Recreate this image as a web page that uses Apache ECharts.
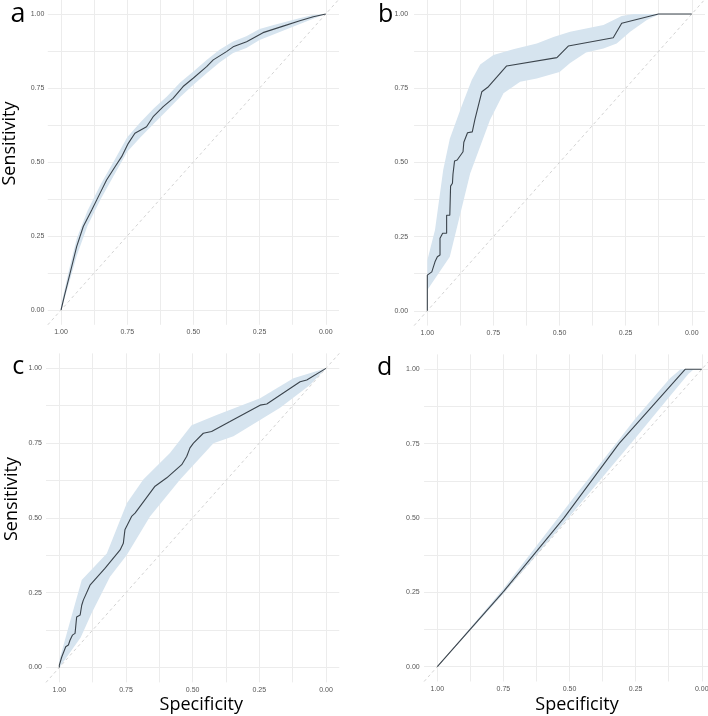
<!DOCTYPE html>
<html>
<head>
<meta charset="utf-8">
<script src="https://cdn.jsdelivr.net/npm/echarts@6/dist/echarts.min.js"></script>
<style>html,body{margin:0;padding:0;background:#fff;}#c{width:708px;height:716px;}</style>
</head>
<body>
<div id="c"></div>
<script>
// ---- tick / grid values ----
const tickLabels = [0, 0.25, 0.5, 0.75, 1];
const gridValues = [0, 0.125, 0.25, 0.375, 0.5, 0.625, 0.75, 0.875, 1];
const panelLetters = ['a', 'b', 'c', 'd'];
const diagonal = [[1.05, -0.05], [-0.05, 1.05]];

// ---- panel a : [specificity, sensitivity] ----
const aCurve = [[1,0],[0.985,0.056],[0.966,0.124],[0.941,0.214],[0.916,0.282],[0.884,0.338],[0.853,0.394],[0.828,0.439],[0.796,0.484],[0.771,0.518],[0.746,0.563],[0.721,0.597],[0.677,0.619],[0.652,0.653],[0.614,0.687],[0.577,0.715],[0.539,0.755],[0.501,0.783],[0.45,0.822],[0.425,0.845],[0.375,0.873],[0.35,0.889],[0.299,0.906],[0.237,0.937],[0.161,0.959],[0.098,0.977],[0.047,0.991],[0,1]];
const aUpper = [[1,0.014],[0.97,0.135],[0.94,0.243],[0.9,0.335],[0.85,0.425],[0.8,0.503],[0.75,0.584],[0.7,0.634],[0.65,0.681],[0.6,0.721],[0.55,0.769],[0.5,0.806],[0.45,0.845],[0.4,0.88],[0.35,0.907],[0.3,0.925],[0.25,0.949],[0.2,0.962],[0.15,0.974],[0.1,0.986],[0.05,0.997],[0,1]];
const aLower = [[1,0],[0.97,0.09],[0.94,0.185],[0.9,0.285],[0.85,0.375],[0.8,0.455],[0.75,0.535],[0.7,0.584],[0.65,0.629],[0.6,0.674],[0.55,0.72],[0.5,0.761],[0.45,0.8],[0.4,0.837],[0.35,0.868],[0.3,0.885],[0.25,0.912],[0.2,0.93],[0.15,0.948],[0.1,0.965],[0.05,0.983],[0,1]];

// ---- panel b ----
const bCurve = [[1,0],[1,0.12],[0.983,0.131],[0.971,0.165],[0.962,0.182],[0.952,0.188],[0.952,0.244],[0.942,0.261],[0.927,0.261],[0.927,0.322],[0.915,0.322],[0.912,0.42],[0.905,0.43],[0.903,0.46],[0.897,0.46],[0.897,0.505],[0.887,0.508],[0.865,0.536],[0.862,0.568],[0.848,0.6],[0.83,0.603],[0.826,0.62],[0.82,0.645],[0.794,0.738],[0.769,0.755],[0.7,0.825],[0.51,0.853],[0.467,0.892],[0.297,0.92],[0.265,0.969],[0.126,1],[0,1]];
const bUpper = [[1,0.17],[0.971,0.272],[0.94,0.474],[0.915,0.58],[0.87,0.69],[0.832,0.778],[0.8,0.83],[0.75,0.862],[0.675,0.881],[0.586,0.901],[0.523,0.923],[0.46,0.94],[0.334,0.963],[0.265,0.993],[0.22,1],[0,1]];
const bLower = [[1,0.07],[0.915,0.182],[0.838,0.463],[0.763,0.643],[0.712,0.733],[0.649,0.772],[0.586,0.783],[0.5,0.805],[0.46,0.835],[0.4,0.87],[0.334,0.884],[0.284,0.901],[0.233,0.94],[0.17,0.98],[0.12,1],[0,1]];

// ---- panel c ----
const cCurve = [[1,0],[1,0.008],[0.991,0.035],[0.976,0.069],[0.966,0.075],[0.96,0.091],[0.951,0.108],[0.941,0.114],[0.935,0.169],[0.922,0.175],[0.916,0.208],[0.91,0.225],[0.885,0.275],[0.829,0.331],[0.772,0.393],[0.76,0.415],[0.754,0.46],[0.729,0.505],[0.716,0.516],[0.641,0.606],[0.597,0.634],[0.541,0.678],[0.522,0.706],[0.51,0.734],[0.497,0.75],[0.46,0.783],[0.429,0.789],[0.36,0.822],[0.247,0.877],[0.222,0.881],[0.097,0.955],[0.072,0.961],[0,1]];
const cUpper = [[1,0.024],[0.96,0.153],[0.916,0.292],[0.822,0.381],[0.747,0.549],[0.685,0.628],[0.585,0.717],[0.504,0.81],[0.41,0.844],[0.247,0.9],[0.122,0.967],[0,1]];
const cLower = [[1,0],[0.96,0.05],[0.92,0.1],[0.879,0.181],[0.81,0.303],[0.747,0.376],[0.66,0.505],[0.547,0.628],[0.422,0.75],[0.347,0.773],[0.172,0.868],[0.06,0.944],[0,1]];

// ---- panel d ----
const dCurve = [[1,0],[0.75,0.252],[0.521,0.5],[0.313,0.75],[0.063,1],[0,1]];
const dUpper = [[1,0],[0.75,0.262],[0.5,0.55],[0.25,0.835],[0.12,0.97],[0.08,1],[0,1]];
const dLower = [[1,0],[0.75,0.245],[0.5,0.505],[0.25,0.77],[0.12,0.91],[0.05,0.985],[0.03,1],[0,1]];

const panels = [
  {curve: aCurve, upper: aUpper, lower: aLower},
  {curve: bCurve, upper: bUpper, lower: bLower},
  {curve: cCurve, upper: cUpper, lower: cLower},
  {curve: dCurve, upper: dUpper, lower: dLower}
];

// ---- layout (pixels) ----
const layout = [
  {left: 47.8, top: -0.8, width: 291.2, height: 325.6, yMargin: 3.5},
  {left: 414.1, top: -0.8, width: 290.9, height: 326.4, yMargin: 6},
  {left: 46, top: 353.4, width: 293.3, height: 329, yMargin: 4},
  {left: 424.1, top: 354.4, width: 290.9, height: 327.1, yMargin: 4.4}
];

const gridColor = '#ececec';
const labelStyle = {fontFamily: 'Liberation Sans', fontSize: 7, color: '#555'};

const grids = [], xAxes = [], yAxes = [], series = [];
layout.forEach((L, i) => {
  grids.push({left: L.left, top: L.top, width: L.width, height: L.height, containLabel: false, outerBoundsMode: 'none'});
  xAxes.push({
    type: 'value', gridIndex: i, min: -0.05, max: 1.05, inverse: true,
    axisLine: {show: false},
    axisTick: {show: false, customValues: gridValues},
    splitLine: {show: true, lineStyle: {color: gridColor, width: 1}},
    axisLabel: Object.assign({customValues: tickLabels, margin: 4, formatter: v => v.toFixed(2)}, labelStyle)
  });
  yAxes.push({
    type: 'value', gridIndex: i, min: -0.05, max: 1.05,
    axisLine: {show: false},
    axisTick: {show: false, customValues: gridValues},
    splitLine: {show: true, lineStyle: {color: gridColor, width: 1}},
    axisLabel: Object.assign({customValues: tickLabels, margin: L.yMargin, formatter: v => v.toFixed(2)}, labelStyle)
  });
  const P = panels[i];
  const poly = P.upper.concat(P.lower.slice().reverse());
  series.push({
    type: 'custom', xAxisIndex: i, yAxisIndex: i, silent: true, z: 1,
    data: poly,
    renderItem: function (params, api) {
      if (params.dataIndex !== 0) return null;
      const pts = poly.map(p => api.coord(p));
      return {type: 'polygon', shape: {points: pts}, style: {fill: '#d6e4ef', stroke: null}};
    }
  });
  series.push({
    type: 'line', xAxisIndex: i, yAxisIndex: i, silent: true, z: 2,
    data: diagonal, symbol: 'none',
    lineStyle: {color: '#d2d2d2', width: 1, type: [3, 3]}
  });
  series.push({
    type: 'line', xAxisIndex: i, yAxisIndex: i, silent: true, z: 3,
    data: P.curve, symbol: 'none',
    lineStyle: {color: '#3b444c', width: 1.1}
  });
});

const letterFont = "'Open Sans', sans-serif";
const graphics = [
  {type: 'text', x: 18, y: 14.5, style: {text: panelLetters[0], font: "27px " + letterFont, fill: '#000', align: 'center', verticalAlign: 'middle'}},
  {type: 'text', x: 385.7, y: 15, style: {text: panelLetters[1], font: "25px " + letterFont, fill: '#000', align: 'center', verticalAlign: 'middle'}},
  {type: 'text', x: 18.3, y: 367, style: {text: panelLetters[2], font: "25px " + letterFont, fill: '#000', align: 'center', verticalAlign: 'middle'}},
  {type: 'text', x: 384.7, y: 367.5, style: {text: panelLetters[3], font: "25px " + letterFont, fill: '#000', align: 'center', verticalAlign: 'middle'}},
  {type: 'text', x: 10, y: 143.5, rotation: Math.PI / 2, style: {text: 'Sensitivity', font: "18px " + letterFont, fill: '#000', align: 'center', verticalAlign: 'middle'}},
  {type: 'text', x: 12, y: 499, rotation: Math.PI / 2, style: {text: 'Sensitivity', font: "18px " + letterFont, fill: '#000', align: 'center', verticalAlign: 'middle'}},
  {type: 'text', x: 201.3, y: 704.5, style: {text: 'Specificity', font: "18px " + letterFont, fill: '#000', align: 'center', verticalAlign: 'middle'}},
  {type: 'text', x: 577, y: 705, style: {text: 'Specificity', font: "18px " + letterFont, fill: '#000', align: 'center', verticalAlign: 'middle'}}
];

const chart = echarts.init(document.getElementById('c'), null, {renderer: 'canvas'});
chart.setOption({
  backgroundColor: '#ffffff',
  animation: false,
  grid: grids,
  xAxis: xAxes,
  yAxis: yAxes,
  series: series,
  graphic: graphics
});
</script>
</body>
</html>
